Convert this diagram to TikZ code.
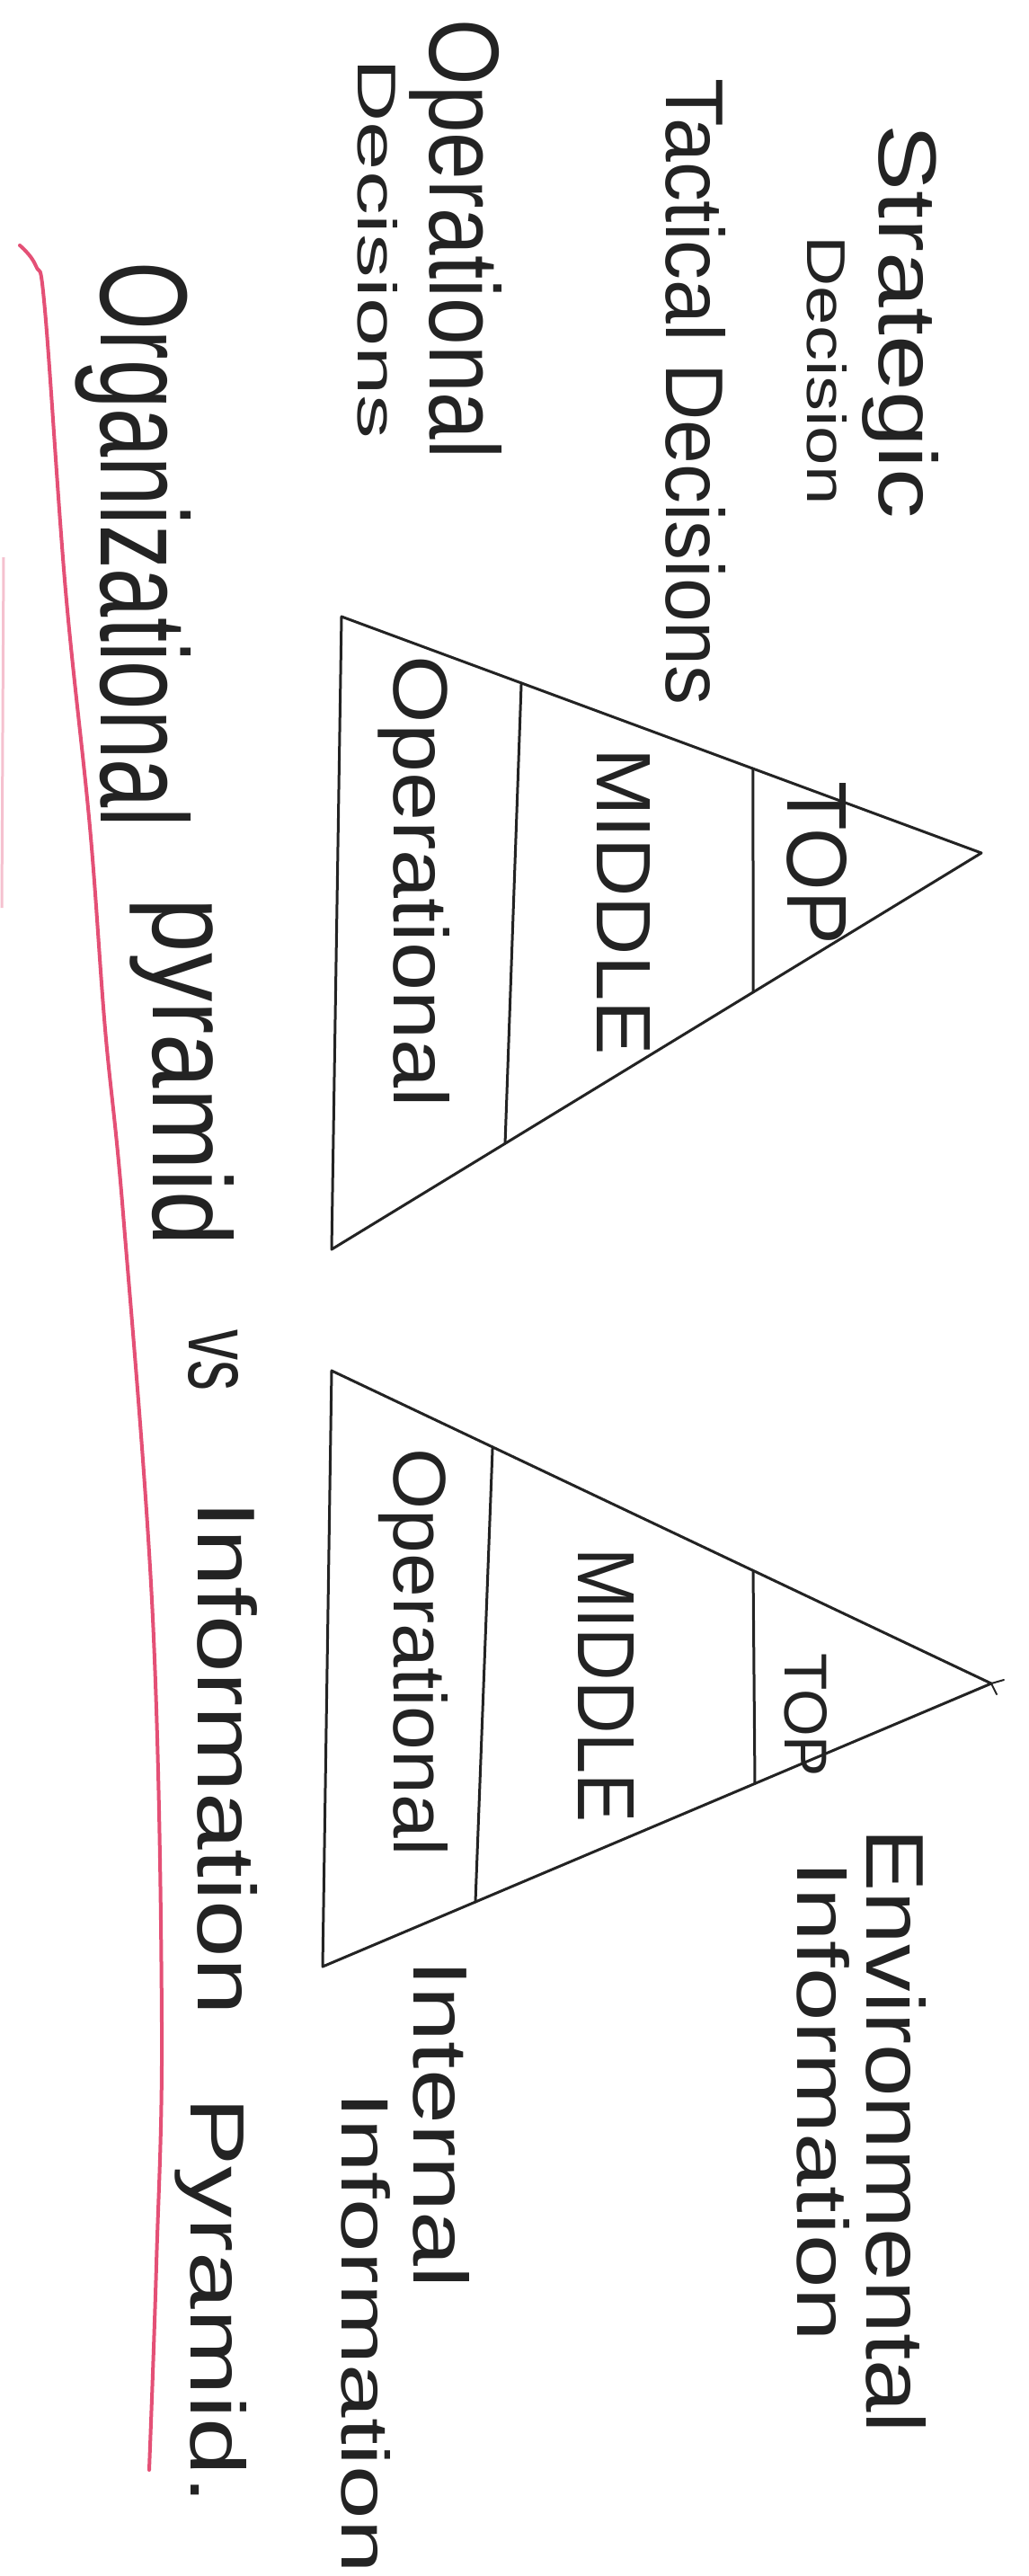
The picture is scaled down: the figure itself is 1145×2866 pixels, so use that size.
\documentclass[tikz,border=0pt]{standalone}
\usepackage{fontspec}
\setmainfont{Liberation Sans}
\usetikzlibrary{calc}
\definecolor{ink}{RGB}{35,35,35}
\definecolor{redline}{RGB}{228,80,118}
\newcommand\fitbox[3]{\resizebox{#1pt}{#2pt}{#3}}
\begin{document}
\begin{tikzpicture}[x=1pt,y=1pt,
  pen/.style={draw=ink,line width=3pt,line join=round,line cap=round},
  redpen/.style={draw=redline,line width=4pt,line cap=round,line join=round},
  hand/.style={rotate=-90,anchor=base,inner sep=0pt,text=ink}]
\fill[white] (0,0) rectangle (1145,-2866);
\useasboundingbox (0,0) rectangle (1145,-2866);

% ---- left pyramid (organizational)
\coordinate (LA) at (380,-686);
\coordinate (LB) at (369,-1390);
\coordinate (LC) at (1092,-949);
\draw[pen] (LA) -- (LC) -- (LB) -- cycle;
\draw[pen] ($(LA)!0.281!(LC)$) -- ($(LB)!0.267!(LC)$);
\draw[pen] ($(LA)!0.643!(LC)$) -- ($(LB)!0.649!(LC)$);

% ---- right pyramid (information)
\coordinate (RA) at (369,-1525);
\coordinate (RB) at (359,-2188);
\coordinate (RC) at (1103,-1873);
\draw[pen] (RA) -- (RC) -- (RB) -- cycle;
\draw[pen] ($(RA)!0.244!(RC)$) -- ($(RB)!0.2285!(RC)$);
\draw[pen] ($(RA)!0.639!(RC)$) -- ($(RB)!0.6465!(RC)$);
\draw[pen,line width=2pt] (RC) -- ++(14,4);
\draw[pen,line width=2pt] (RC) -- ++(6,-12);

% ---- labels left
\node[hand] (strat) at (978,-358) {\fitbox{438}{66}{Strategic}};
\node[hand] (stratd) at (898,-412) {\fitbox{299}{44}{Decision}};
\node[hand] (tact) at (741,-436) {\fitbox{697}{66}{Tactical Decisions}};
\node[hand] (oper) at (478,-266) {\fitbox{489}{80}{Operational}};
\node[hand] (operd) at (398,-277) {\fitbox{423}{44}{Decisions}};

\node[hand] (ltop) at (876,-960) {\fitbox{182}{66}{TOP}};
\node[hand] (lmid) at (664,-1003) {\fitbox{342}{59}{MIDDLE}};
\node[hand] (lop) at (438,-981) {\fitbox{502}{62}{Operational}};

% ---- labels right
\node[hand] (rtop) at (873,-1908) {\fitbox{138}{47}{TOP}};
\node[hand] (rmid) at (643,-1875) {\fitbox{306}{62}{MIDDLE}};
\node[hand] (rop) at (438,-1838) {\fitbox{453}{60}{Operational}};

\node[hand] (env) at (964,-2371) {\fitbox{672}{66}{Environmental}};
\node[hand] (envi) at (887,-2338) {\fitbox{534}{58}{Information}};
\node[hand] (int) at (460,-2363) {\fitbox{365}{62}{Internal}};
\node[hand] (inti) at (380,-2595) {\fitbox{535}{54}{Information}};

% ---- title
\node[hand] (t1) at (112,-606) {\fitbox{628}{100}{Organizational}};
\node[hand] (t2) at (170,-1193) {\fitbox{386}{90}{pyramid}};
\node[hand] (t3) at (210,-1513) {\fitbox{68}{55}{vs}};
\node[hand] (t4) at (220,-1956) {\fitbox{572}{66}{Information}};
\node[hand] (t5) at (212,-2560) {\fitbox{452}{62}{Pyramid.}};

% ---- red underline
\draw[redpen] plot[smooth,tension=0.6] coordinates
  {(22,-273) (40,-296) (50,-345) (73,-657) (100,-920)
   (117,-1145) (137,-1350) (170,-1800) (180,-2250) (174,-2520) (166,-2748)};
% faint margin line at the left edge
\draw[draw=redline,opacity=0.35,line width=3pt] (4,-620) -- (2,-1010);
\end{tikzpicture}
\end{document}
